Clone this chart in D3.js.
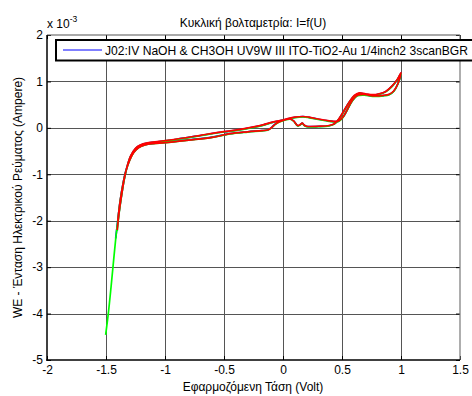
<!DOCTYPE html>
<html>
<head>
<meta charset="utf-8">
<script src="https://cdn.jsdelivr.net/npm/d3@7"></script>
<style>
  html, body { margin: 0; padding: 0; background: #fff; }
  svg { display: block; font-family: "Liberation Sans", Arial, Helvetica, sans-serif; }
</style>
</head>
<body>
<svg id="chart" width="472" height="396"></svg>
<script>
// Cyclic voltammetry, three scans (currents in units of 1e-3 A)
const xTicks = [-2, -1.5, -1, -0.5, 0, 0.5, 1, 1.5];
const xTickLabels = ["-2", "-1.5", "-1", "-0.5", "0", "0.5", "1", "1.5"];
const yTicks = [-5, -4, -3, -2, -1, 0, 1, 2];
const yTickLabels = ["-5", "-4", "-3", "-2", "-1", "0", "1", "2"];

const titleText = "Κυκλική βολταμετρία: I=f(U)";
const xLabelText = "Εφαρμοζόμενη Τάση (Volt)";
const yLabelText = "WE - Ένταση Ηλεκτρικού Ρεύματος (Ampere)";
const legendText = "J02:IV NaOH & CH3OH UV9W III ITO-TiO2-Au 1/4inch2 3scanBGR";
const seriesNames = ["scan 1", "scan 2", "scan 3"];

// Applied potential (V): anodic sweep up to 1 V, then the return sweep
const potential = [
  -1.503, -1.48, -1.458, -1.438, -1.418, -1.40, -1.38, -1.355, -1.33, -1.30,
  -1.265, -1.225, -1.17, -1.10, -1.0, -0.8, -0.6, -0.45, -0.3, -0.18,
  -0.13, -0.10, -0.07, -0.03, 0.02, 0.06, 0.09, 0.125, 0.145, 0.163,
  0.18, 0.20, 0.30, 0.39, 0.435, 0.478, 0.52, 0.562, 0.604, 0.646,
  0.70, 0.76, 0.815, 0.87, 0.927, 0.97, 1.0,
  0.975, 0.94, 0.90, 0.85, 0.76, 0.69, 0.63, 0.59, 0.55, 0.51,
  0.47, 0.43, 0.38, 0.30, 0.22, 0.17, 0.10, 0.05, 0.0, -0.08,
  -0.17, -0.25, -0.39, -0.53, -0.7, -0.9, -1.05, -1.15, -1.21, -1.25,
  -1.29, -1.32, -1.345, -1.368, -1.388, -1.405
];

// Scan 1 (blue)
const currentScan1 = [
  null, null, null, null, -2.38, -1.99, -1.57, -1.19, -0.91, -0.69,
  -0.52, -0.425, -0.365, -0.335, -0.315, -0.26, -0.20, -0.125, -0.085, -0.06,
  -0.045, 0.0, 0.075, 0.135, 0.18, 0.19, 0.15, 0.045, 0.065, 0.10,
  0.055, 0.03, 0.03, 0.045, 0.085, 0.205, 0.38, 0.555, 0.69, 0.745,
  0.725, 0.705, 0.725, 0.78, 0.905, 1.04, 1.18,
  0.955, 0.795, 0.72, 0.695, 0.685, 0.715, 0.695, 0.595, 0.415, 0.235,
  0.145, 0.135, 0.15, 0.185, 0.225, 0.24, 0.225, 0.2, 0.165, 0.125,
  0.06, 0.015, -0.05, -0.095, -0.165, -0.245, -0.295, -0.33, -0.375, -0.445,
  -0.605, -0.825, -1.1, -1.45, -1.8, -2.15
];

// Scan 2 (green)
const currentScan2 = [
  -4.46, -3.99, -3.45, -2.92, -2.40, -2.0, -1.58, -1.2, -0.92, -0.70,
  -0.53, -0.43, -0.37, -0.34, -0.32, -0.265, -0.205, -0.13, -0.09, -0.065,
  -0.05, -0.005, 0.065, 0.125, 0.17, 0.185, 0.145, 0.04, 0.06, 0.095,
  0.05, 0.025, 0.025, 0.04, 0.08, 0.20, 0.375, 0.55, 0.685, 0.735,
  0.715, 0.695, 0.72, 0.775, 0.90, 1.04, 1.17,
  0.95, 0.79, 0.715, 0.69, 0.68, 0.705, 0.69, 0.59, 0.41, 0.23,
  0.14, 0.13, 0.145, 0.18, 0.22, 0.235, 0.22, 0.195, 0.16, 0.12,
  0.055, 0.01, -0.055, -0.1, -0.17, -0.25, -0.3, -0.335, -0.38, -0.45,
  -0.61, -0.83, -1.11, -1.46, -1.82, -2.22
];

// Scan 3 (red)
const currentScan3 = [
  null, null, null, null, null, -2.0, -1.58, -1.2, -0.92, -0.70,
  -0.53, -0.43, -0.37, -0.34, -0.32, -0.265, -0.205, -0.125, -0.085, -0.06,
  -0.045, 0.0, 0.07, 0.13, 0.175, 0.19, 0.15, 0.05, 0.07, 0.10,
  0.06, 0.035, 0.035, 0.05, 0.09, 0.21, 0.385, 0.56, 0.70, 0.755,
  0.735, 0.715, 0.735, 0.785, 0.91, 1.05, 1.19,
  0.96, 0.80, 0.725, 0.70, 0.69, 0.72, 0.70, 0.60, 0.42, 0.24,
  0.15, 0.14, 0.155, 0.19, 0.23, 0.245, 0.23, 0.205, 0.17, 0.13,
  0.065, 0.02, -0.045, -0.09, -0.16, -0.24, -0.29, -0.325, -0.37, -0.44,
  -0.60, -0.82, -1.10, -1.45, -1.80, -2.20
];

const seriesColors = ["#0000ff", "#00ff00", "#ff0000"];
const seriesCurrents = [currentScan1, currentScan2, currentScan3];

const svg = d3.select("#chart");
const W = 472, H = 396;
const plot = { left: 47, right: 460, top: 35, bottom: 360 };
const FS = 12;

svg.append("rect").attr("width", W).attr("height", H).attr("fill", "#fff");

const x = d3.scaleLinear().domain([-2, 1.5]).range([plot.left, plot.right]);
const y = d3.scaleLinear().domain([-5, 2]).range([plot.bottom, plot.top]);

// Grid
const grid = svg.append("g").attr("stroke", "#555").attr("stroke-width", 1).attr("shape-rendering", "crispEdges");
grid.selectAll("line.gx").data(xTicks.slice(1, -1)).join("line")
  .attr("x1", d => Math.round(x(d)) + 0.5).attr("x2", d => Math.round(x(d)) + 0.5)
  .attr("y1", plot.top).attr("y2", plot.bottom);
grid.selectAll("line.gy").data(yTicks.slice(1, -1)).join("line")
  .attr("y1", d => Math.round(y(d)) + 0.5).attr("y2", d => Math.round(y(d)) + 0.5)
  .attr("x1", plot.left).attr("x2", plot.right);

// Curves
const line = d3.line()
  .defined(d => d[1] !== null)
  .x(d => x(d[0]))
  .y(d => y(d[1]))
  .curve(d3.curveCatmullRom.alpha(0.5));

seriesCurrents.forEach((cur, i) => {
  const pts = potential.map((v, k) => [v, cur[k]]);
  svg.append("path")
    .datum(pts)
    .attr("class", "series")
    .attr("data-name", seriesNames[i])
    .attr("fill", "none")
    .attr("stroke", seriesColors[i])
    .attr("stroke-width", 1.7)
    .attr("stroke-linejoin", "round")
    .attr("d", line);
});

// Axes (ticks pointing inward)
const xAxis = d3.axisBottom(x).tickValues(xTicks)
  .tickFormat((d, i) => xTickLabels[i]).tickSizeInner(-4).tickSizeOuter(0).tickPadding(5);
const gx = svg.append("g").attr("transform", `translate(0,${plot.bottom})`).call(xAxis);

const yAxis = d3.axisLeft(y).tickValues(yTicks)
  .tickFormat((d, i) => yTickLabels[i]).tickSizeInner(-4).tickSizeOuter(0).tickPadding(4);
const gy = svg.append("g").attr("transform", `translate(${plot.left},0)`).call(yAxis);

[gx, gy].forEach(g => {
  g.select(".domain").remove();
  g.selectAll("text").attr("font-size", FS).attr("fill", "#000")
    .attr("font-family", "Liberation Sans, Arial, sans-serif");
  g.selectAll(".tick line").attr("stroke", "#000");
});

// Top/right ticks
const xTop = d3.axisTop(x).tickValues(xTicks).tickFormat("").tickSizeInner(-4).tickSizeOuter(0);
const gxt = svg.append("g").attr("transform", `translate(0,${plot.top})`).call(xTop);
const yRight = d3.axisRight(y).tickValues(yTicks).tickFormat("").tickSizeInner(-4).tickSizeOuter(0);
const gyr = svg.append("g").attr("transform", `translate(${plot.right},0)`).call(yRight);
[gxt, gyr].forEach(g => { g.select(".domain").remove(); g.selectAll(".tick line").attr("stroke", "#000"); });

// Frame
svg.append("line").attr("x1", plot.left).attr("x2", plot.right).attr("y1", plot.top).attr("y2", plot.top)
  .attr("stroke", "#555").attr("stroke-width", 1.2);
svg.append("line").attr("x1", plot.right).attr("x2", plot.right).attr("y1", plot.top).attr("y2", plot.bottom)
  .attr("stroke", "#777").attr("stroke-width", 1.2);
svg.append("line").attr("x1", plot.left).attr("x2", plot.left).attr("y1", plot.top).attr("y2", plot.bottom + 0.75)
  .attr("stroke", "#000").attr("stroke-width", 1.5);
svg.append("line").attr("x1", plot.left - 0.75).attr("x2", plot.right).attr("y1", plot.bottom).attr("y2", plot.bottom)
  .attr("stroke", "#000").attr("stroke-width", 1.5);

// Exponent label
const expo = svg.append("text").attr("x", 47).attr("y", 28).attr("font-size", FS).attr("fill", "#000");
expo.append("tspan").text("x 10");
expo.append("tspan").attr("dy", -6).attr("font-size", 8.5).text("-3");

// Title
svg.append("text").attr("x", 253).attr("y", 27)
  .attr("text-anchor", "middle").attr("font-size", FS).attr("fill", "#000").text(titleText);

// Axis labels
svg.append("text").attr("x", 253).attr("y", 391)
  .attr("text-anchor", "middle").attr("font-size", FS).attr("fill", "#000").text(xLabelText);
svg.append("text")
  .attr("transform", `translate(22,${(plot.top + plot.bottom) / 2}) rotate(-90)`)
  .attr("text-anchor", "middle").attr("font-size", FS).attr("fill", "#000").text(yLabelText);

// Legend
const lg = svg.append("g");
lg.append("rect").attr("x", 56).attr("y", 40).attr("width", 430).attr("height", 20.5)
  .attr("fill", "#fff").attr("stroke", "#000").attr("stroke-width", 2);
lg.append("line").attr("x1", 63).attr("x2", 102).attr("y1", 50).attr("y2", 50)
  .attr("stroke", seriesColors[0]).attr("stroke-width", 1);
lg.append("text").attr("x", 105).attr("y", 54.5).attr("font-size", 12.1).attr("fill", "#000").text(legendText);
</script>
</body>
</html>
